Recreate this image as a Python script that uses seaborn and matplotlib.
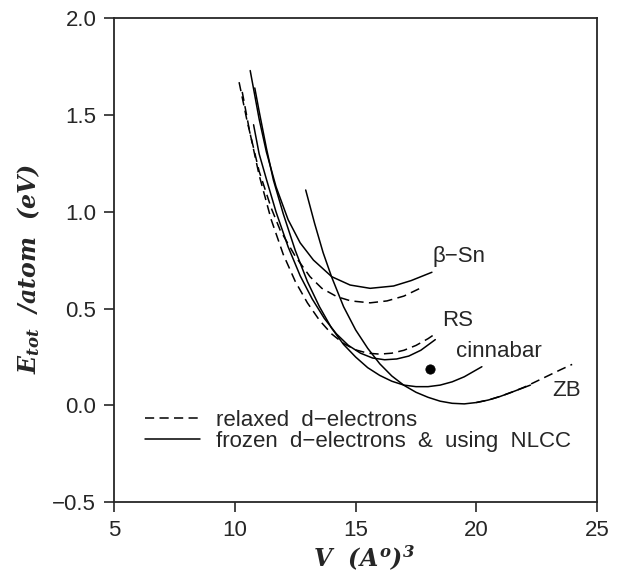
import matplotlib
matplotlib.use("Agg")
import matplotlib.pyplot as plt
import seaborn as sns
import pandas as pd

# ---------------- data ----------------
# beta-Sn, frozen d-electrons + NLCC (solid)
bsn_frozen_v = [10.63, 11.0, 11.3, 11.7, 12.2, 12.7, 13.25, 14.01, 14.77, 15.6, 16.57, 17.3, 18.16]
bsn_frozen_e = [1.73, 1.48, 1.31, 1.13, 0.96, 0.84, 0.751, 0.665, 0.622, 0.605, 0.617, 0.645, 0.688]
# beta-Sn, relaxed d-electrons (dashed)
bsn_relax_v = [10.17, 10.5, 11.0, 11.5, 11.87, 12.5, 13.11, 13.6, 14.22, 14.8, 15.6, 16.3, 17.0, 17.75]
bsn_relax_e = [1.67, 1.47, 1.21, 1.02, 0.906, 0.77, 0.665, 0.605, 0.562, 0.54, 0.53, 0.54, 0.565, 0.61]
# RS, relaxed (dashed)
rs_relax_v = [10.3, 10.6, 11.0, 11.5, 12.0, 12.5, 13.0, 13.5, 14.0, 14.5, 15.0, 15.5, 16.0, 16.5, 17.0, 17.5, 18.0, 18.37]
rs_relax_e = [1.62, 1.42, 1.19, 0.96, 0.78, 0.64, 0.53, 0.44, 0.37, 0.32, 0.287, 0.27, 0.265, 0.27, 0.285, 0.31, 0.345, 0.376]
# RS, frozen (solid)
rs_frozen_v = [10.77, 11.0, 11.31, 11.7, 12.2, 12.7, 13.2, 13.7, 14.2, 14.7, 15.2, 15.7, 16.2, 16.7, 17.2, 17.7, 18.3]
rs_frozen_e = [1.45, 1.30, 1.165, 1.0, 0.82, 0.67, 0.55, 0.45, 0.37, 0.31, 0.27, 0.245, 0.236, 0.24, 0.255, 0.285, 0.34]
# cinnabar, frozen (solid)
cin_v = [10.82, 11.0, 11.3, 11.59, 12.0, 12.5, 13.0, 13.5, 14.0, 14.5, 15.0, 15.5, 16.0, 16.5, 17.0, 17.5, 18.0, 18.5, 19.0, 19.5, 20.23]
cin_e = [1.64, 1.52, 1.33, 1.165, 0.99, 0.80, 0.64, 0.51, 0.40, 0.315, 0.25, 0.195, 0.155, 0.125, 0.105, 0.097, 0.097, 0.105, 0.122, 0.148, 0.20]
# ZB, frozen (solid)
zb_frozen_v = [12.93, 13.3, 13.65, 14.0, 14.5, 15.0, 15.5, 16.0, 16.5, 17.0, 17.5, 18.0, 18.5, 19.0, 19.5, 20.0, 20.5, 21.0, 21.5, 22.24]
zb_frozen_e = [1.113, 0.94, 0.79, 0.665, 0.51, 0.39, 0.295, 0.215, 0.152, 0.104, 0.068, 0.042, 0.022, 0.011, 0.008, 0.015, 0.028, 0.047, 0.07, 0.105]
# ZB, relaxed (dashed)
zb_relax_v = [20.0, 20.5, 21.0, 21.5, 22.0, 22.5, 23.0, 23.5, 23.97]
zb_relax_e = [0.015, 0.028, 0.047, 0.07, 0.095, 0.125, 0.155, 0.185, 0.212]
# experimental point
exp_v = [18.06]
exp_e = [0.188]

# structure labels
label_text = ["\u03b2\u2212Sn", "RS", "cinnabar", "ZB"]
label_v = [18.2, 18.58, 19.17, 23.14]
label_e = [0.767, 0.441, 0.277, 0.079]

x_ticks = [5, 10, 15, 20, 25]
y_ticks = [-0.5, 0.0, 0.5, 1.0, 1.5, 2.0]

legend_labels = ["relaxed  d\u2212electrons", "frozen  d\u2212electrons  &  using  NLCC"]

# ---------------- style ----------------
sns.set_style("ticks")
plt.rcParams["font.family"] = ["Liberation Sans", "DejaVu Sans"]
plt.rcParams["mathtext.fontset"] = "custom"
plt.rcParams["mathtext.it"] = "DejaVu Serif:bold:italic"
plt.rcParams["mathtext.rm"] = "DejaVu Serif:bold:italic"
plt.rcParams["mathtext.bf"] = "DejaVu Serif:bold:italic"

fig = plt.figure(figsize=(6.18, 5.72), dpi=100)
ax = fig.add_axes([0.185, 0.122, 0.781, 0.846])

LW = 1.1
DASH = (0, (6, 3.5))

curves = [
    (bsn_relax_v, bsn_relax_e, DASH),
    (rs_relax_v, rs_relax_e, DASH),
    (zb_relax_v, zb_relax_e, DASH),
    (bsn_frozen_v, bsn_frozen_e, "-"),
    (rs_frozen_v, rs_frozen_e, "-"),
    (cin_v, cin_e, "-"),
    (zb_frozen_v, zb_frozen_e, "-"),
]
handles = {}
for v, e, ls in curves:
    df = pd.DataFrame({"V": v, "E": e})
    sns.lineplot(data=df, x="V", y="E", ax=ax, color="black", lw=LW, sort=False)
    ln = ax.lines[-1]
    ln.set_linestyle(ls)
    handles.setdefault("dash" if ls != "-" else "solid", ln)

sns.scatterplot(x=exp_v, y=exp_e, ax=ax, color="black", s=45, edgecolor="black", zorder=5)

for t, xv, yv in zip(label_text, label_v, label_e):
    ax.text(xv, yv, t, fontsize=16, va="center", ha="left")

ax.set_xlim(5, 25)
ax.set_ylim(-0.5, 2.0)
ax.set_xticks(x_ticks)
ax.set_yticks(y_ticks)
ax.set_xticklabels([str(t) for t in x_ticks])
ax.set_yticklabels([f"{t:.1f}".replace("-", "\u2212") for t in y_ticks])
ax.tick_params(axis="both", direction="out", length=7, width=1.2, labelsize=16, pad=6,
               top=False, right=False)
for s in ax.spines.values():
    s.set_visible(True)
    s.set_linewidth(1.3)

ax.set_xlabel(r"$V\ \ (A^{o})^{3}$", fontsize=17)
ax.set_ylabel(r"$E_{tot}$  /atom  (eV)", fontsize=17, fontfamily="DejaVu Serif",
              fontweight="bold", fontstyle="italic")
ax.xaxis.set_label_coords(0.517, -0.085)
ax.yaxis.set_label_coords(-0.15, 0.482)

leg = ax.legend([handles["dash"], handles["solid"]], legend_labels, loc="upper left",
                bbox_to_anchor=(0.063, 0.19), frameon=False, fontsize=16,
                handlelength=2.5, handletextpad=0.7, labelspacing=0.0,
                borderpad=0, borderaxespad=0)

fig.savefig("out.png", dpi=100)
